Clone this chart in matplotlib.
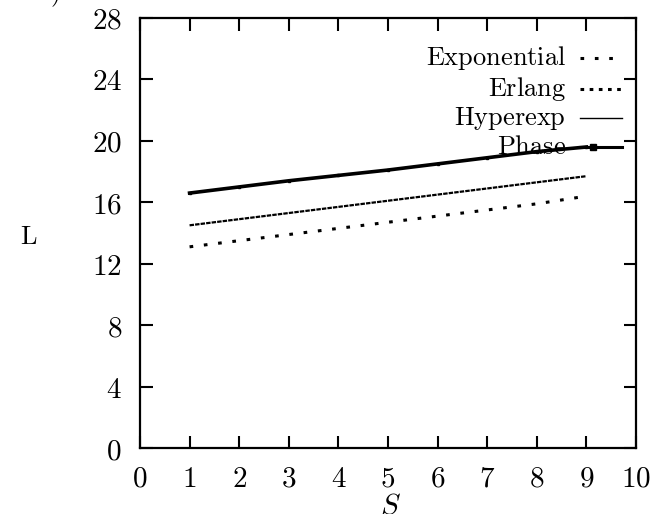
import numpy as np
import matplotlib
matplotlib.use("Agg")
import matplotlib.pyplot as plt

plt.rcParams["mathtext.fontset"] = "cm"
plt.rcParams["font.family"] = "serif"
plt.rcParams["font.serif"] = ["DejaVu Serif"]

S = [1, 2, 3, 4, 5, 6, 7, 8, 9]
exponential = [13.1, 13.5, 13.9, 14.3, 14.7, 15.1, 15.5, 15.9, 16.4]
erlang = [14.5, 14.9, 15.3, 15.7, 16.1, 16.5, 16.9, 17.3, 17.7]
hyperexp = [16.6, 17.0, 17.4, 17.75, 18.1, 18.5, 18.9, 19.3, 19.6]
phase = [16.6, 17.0, 17.4, 17.75, 18.1, 18.5, 18.9, 19.3, 19.6]
labels = ["Exponential", "Erlang", "Hyperexp", "Phase"]

xticks = list(range(0, 11))
yticks = list(range(0, 29, 4))

W = 655.0
H = 514.0
fig = plt.figure(figsize=(6.55, 5.14), dpi=100)
ax = fig.add_axes([0.2137, 0.1284, 0.7573, 0.8366])

FS = 19
TFS = 21

ax.plot(S, exponential, color="black", lw=2.2, linestyle=(0, (1.2, 3.5)),
        dash_capstyle="butt")
ax.plot(S, erlang, color="black", lw=1.6, linestyle=(0, (2.0, 0.5)),
        dash_capstyle="butt")
ax.plot(S, hyperexp, color="black", lw=1.0)
ax.plot(S, phase, color="black", lw=2.6, marker="s", markersize=2)

ax.set_xlim(0, 10)
ax.set_ylim(0, 28)
ax.set_xticks(xticks)
ax.set_yticks(yticks)
ax.set_xticklabels([f"${v}$" for v in xticks], fontsize=TFS)
ax.set_yticklabels([f"${v}$" for v in yticks], fontsize=TFS)
ax.tick_params(axis="x", direction="in", length=9, width=1.5, top=True,
               pad=12)
ax.tick_params(axis="y", direction="in", length=9, width=1.5, right=True,
               pad=13)
for sp in ax.spines.values():
    sp.set_linewidth(1.6)

fig.text(390 / W, 1 - 492 / H, "$S$", fontsize=TFS, ha="center", va="top")
fig.text(29 / W, 1 - 237 / H, r"$\mathrm{L}$", fontsize=FS, ha="center",
         va="center")
fig.text(-0.03, 0.982, r"$\mathrm{(serial)}$", fontsize=FS, ha="left",
         va="bottom")

# legend drawn by hand: right-aligned labels with samples to their right
key_y = [58, 89, 118, 147]
styles = [
    dict(lw=2.2, linestyle=(0, (1.2, 3.5)), dash_capstyle="butt"),
    dict(lw=2.2, linestyle=(0, (1.2, 1.8)), dash_capstyle="butt"),
    dict(lw=1.0),
    dict(lw=2.2),
]
for name, yp, st in zip(labels, key_y, styles):
    yf = 1 - yp / H
    fig.text(566 / W, yf, rf"$\mathrm{{{name}}}$", fontsize=FS, ha="right",
             va="center")
    fig.add_artist(plt.Line2D([580 / W, 622 / W], [yf, yf], color="black",
                              transform=fig.transFigure, **st))
fig.add_artist(plt.Line2D([593 / W], [1 - 147 / H], color="black", marker="s",
                          markersize=4, transform=fig.transFigure))

fig.savefig("out.png", dpi=100)
